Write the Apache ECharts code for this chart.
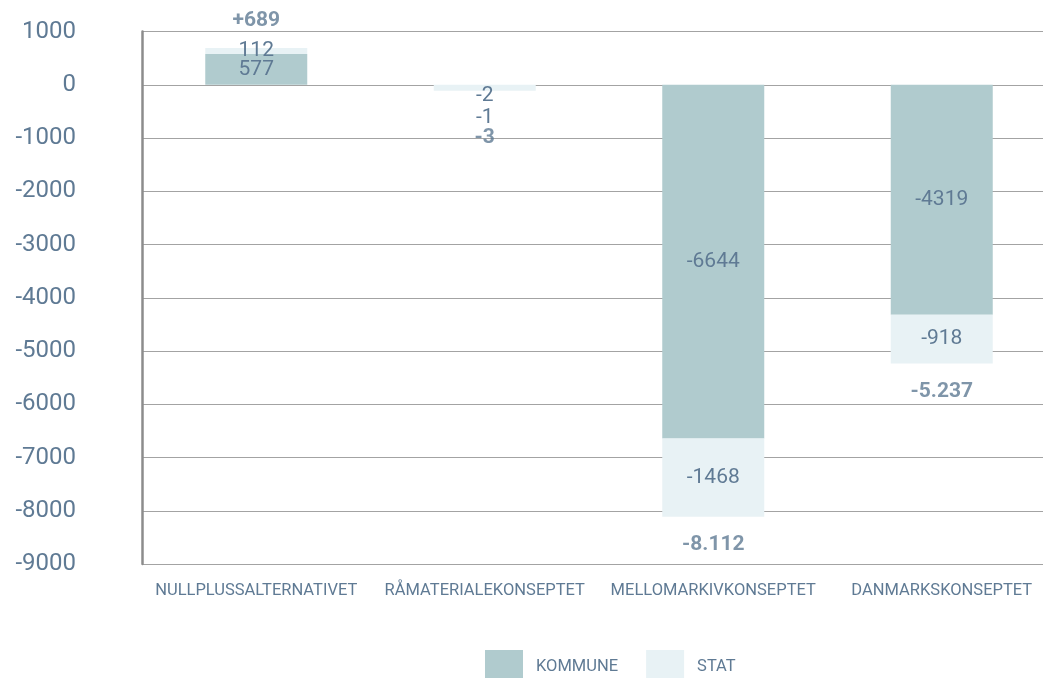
<!DOCTYPE html>
<html>
<head>
<meta charset="utf-8">
<script src="https://cdn.jsdelivr.net/npm/echarts@6/dist/echarts.min.js"></script>
<style>
html,body{margin:0;padding:0;background:#fff;}
#chart{width:1043px;height:678px;}
</style>
</head>
<body>
<div id="chart"></div>
<script>
var categories = ['NULLPLUSSALTERNATIVET', 'RÅMATERIALEKONSEPTET', 'MELLOMARKIVKONSEPTET', 'DANMARKSKONSEPTET'];
var kommune = [577, -2, -6644, -4319];
var stat = [112, -1, -1468, -918];
var seriesNames = ['KOMMUNE', 'STAT'];
var yTicks = { min: -9000, max: 1000, interval: 1000 };

var totals = kommune.map(function (v, i) { return v + stat[i]; });

var TEXT = '#5f7a94';
var FONT = 'Roboto';
var SMALL = 150;

function fmtTotal(v) {
  var s = Math.abs(v).toString().replace(/\B(?=(\d{3})+(?!\d))/g, '.');
  return (v > 0 ? '+' : '-') + s;
}

var kData = kommune.map(function (v) {
  if (Math.abs(v) < SMALL) {
    return { value: v, label: { position: v < 0 ? 'bottom' : 'top', distance: 0 } };
  }
  return v;
});
var sData = stat.map(function (v, i) {
  if (Math.abs(kommune[i] + v) < SMALL) {
    return { value: v, label: { position: v < 0 ? 'bottom' : 'top', distance: 16 } };
  }
  return v;
});
var tData = totals.map(function (v) {
  if (Math.abs(v) < SMALL) {
    return { value: v, label: { position: v < 0 ? 'bottom' : 'top', distance: 42 } };
  }
  return { value: v, label: { position: v < 0 ? 'bottom' : 'top', distance: v < 0 ? 18 : 17 } };
});

var valueLabel = {
  show: true,
  position: 'inside',
  color: TEXT,
  fontFamily: FONT,
  fontSize: 21
};

var chart = echarts.init(document.getElementById('chart'), null, { renderer: 'canvas' });
chart.setOption({
  animation: false,
  backgroundColor: '#ffffff',
  textStyle: { fontFamily: FONT },
  grid: { left: 142, width: 914, top: 31.5, bottom: 114, containLabel: false, outerBoundsMode: 'none' },
  legend: {
    data: seriesNames,
    left: 480,
    top: 645,
    icon: 'rect',
    itemWidth: 38,
    itemHeight: 34,
    itemGap: 28,
    textStyle: { color: TEXT, fontFamily: FONT, fontSize: 16.5, padding: [0, 0, 0, 8] }
  },
  xAxis: {
    type: 'category',
    data: categories,
    axisLine: { show: false },
    axisTick: { show: false },
    axisLabel: { color: TEXT, fontFamily: FONT, fontSize: 16.5, margin: 18, interval: 0 }
  },
  yAxis: {
    type: 'value',
    min: yTicks.min,
    max: yTicks.max,
    interval: yTicks.interval,
    axisLine: { show: true, lineStyle: { color: '#8c8c8c', width: 2.5 } },
    axisTick: { show: false },
    splitLine: { show: true, lineStyle: { color: '#a3a3a3', width: 1 } },
    axisLabel: {
      color: TEXT, fontFamily: FONT, fontSize: 24, margin: 66, lineHeight: 30, padding: [6, 0, 0, 0],
      formatter: function (v) { return String(v); }
    }
  },
  series: [
    {
      name: seriesNames[0],
      type: 'bar',
      stack: 'total',
      barWidth: 102,
      itemStyle: { color: '#b0cbce' },
      label: valueLabel,
      data: kData
    },
    {
      name: seriesNames[1],
      type: 'bar',
      stack: 'total',
      barWidth: 102,
      barMinHeight: 6,
      itemStyle: { color: '#e8f2f5' },
      label: valueLabel,
      data: sData
    },
    {
      name: 'total',
      type: 'scatter',
      symbolSize: 0,
      silent: true,
      label: {
        show: true,
        color: TEXT,
        fontFamily: FONT,
        fontSize: 21,
        fontWeight: 'bold',
        formatter: function (p) { return fmtTotal(p.value); }
      },
      data: tData
    }
  ]
});
</script>
</body>
</html>
